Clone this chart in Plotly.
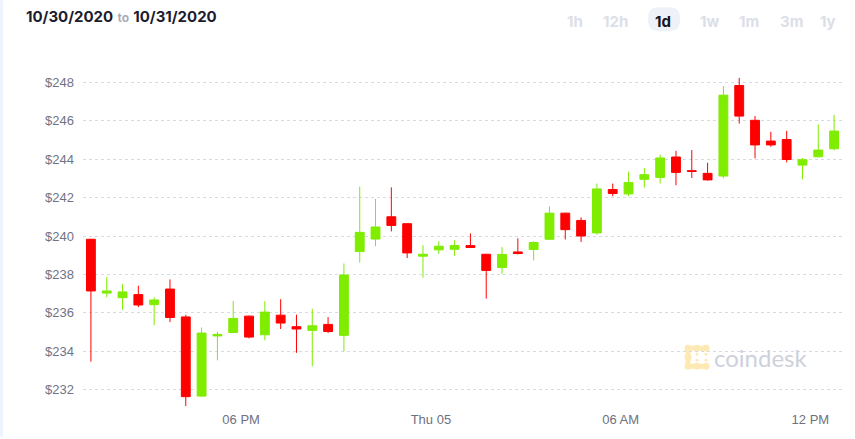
import pandas as pd
import plotly.graph_objects as go

# ---------------- data ----------------
start_time = "2020-11-04 13:15"
n_candles = 48
opens = [239.83, 237.03, 236.79, 236.95, 236.43, 237.24, 235.79, 231.67, 234.80, 234.98,
         235.83, 234.86, 235.88, 235.28, 235.09, 235.40, 234.83, 239.19, 239.84, 241.00,
         240.64, 238.95, 239.28, 239.31, 239.50, 239.05, 238.36, 239.17, 239.30, 239.83,
         241.19, 240.81, 240.16, 242.42, 242.19, 242.95, 243.05, 244.11, 243.40, 243.26,
         243.12, 247.83, 246.02, 244.94, 245.02, 243.69, 244.12, 244.54]
highs = [239.85, 237.85, 237.49, 237.41, 236.81, 237.74, 235.90, 235.24, 235.02, 236.62,
         235.86, 236.61, 236.71, 235.90, 236.21, 235.78, 238.57, 242.57, 241.93, 242.53,
         240.66, 239.52, 239.73, 239.78, 240.14, 239.07, 239.42, 239.88, 239.73, 241.54,
         241.21, 240.97, 242.73, 242.73, 243.35, 243.54, 244.23, 244.43, 244.47, 243.81,
         247.80, 248.23, 246.24, 245.42, 245.47, 244.06, 245.81, 246.30]
lows = [233.46, 236.81, 236.16, 236.30, 235.36, 235.52, 231.15, 231.65, 233.53, 234.96,
        234.67, 234.57, 235.16, 233.92, 233.22, 234.95, 234.00, 238.62, 239.47, 240.24,
        238.85, 237.83, 239.07, 238.97, 239.38, 236.74, 238.02, 239.04, 238.73, 239.80,
        239.82, 239.69, 240.07, 242.07, 242.07, 242.52, 242.73, 242.64, 243.02, 242.88,
        243.00, 245.85, 244.04, 244.64, 243.83, 242.95, 244.10, 244.45]
closes = [237.14, 237.14, 237.09, 236.41, 236.67, 235.76, 231.64, 234.95, 234.88, 235.71,
          234.74, 236.04, 235.47, 235.16, 235.33, 235.03, 237.97, 240.19, 240.47, 240.55,
          239.12, 239.05, 239.47, 239.50, 239.40, 238.21, 239.04, 239.09, 239.66, 241.19,
          240.33, 240.00, 242.45, 242.21, 242.78, 243.19, 244.06, 243.31, 243.36, 242.92,
          247.33, 246.24, 244.74, 244.74, 243.98, 243.97, 244.47, 245.46]
times = pd.date_range(start_time, periods=n_candles, freq="30min")

x_range = ["2020-11-04 13:00", "2020-11-05 13:00"]
x_tickvals = ["2020-11-04 18:00", "2020-11-05 00:00", "2020-11-05 06:00", "2020-11-05 12:00"]
x_ticktext = ["06 PM", "Thu 05", "06 AM", "12 PM"]
y_tickvals = [232, 234, 236, 238, 240, 242, 244, 246, 248]
y_ticktext = ["$" + str(v) for v in y_tickvals]
y_range = [231.05, 248.95]

range_buttons = ["1h", "12h", "1d", "1w", "1m", "3m", "1y"]
active_button = "1d"
date_from, date_to = "10/30/2020", "10/31/2020"

# ---------------- layout helpers (pixel -> paper) ----------------
W, H = 855, 439
ML, MR, MT, MB = 83, 13, 64, 29
PW, PH = W - ML - MR, H - MT - MB


def px(x):
    return (x - ML) / PW


def py(y):
    return (H - MB - y) / PH


GREEN = "#7fec00"
RED = "#ff0000"

fig = go.Figure()
fig.add_trace(go.Candlestick(
    x=times, open=opens, high=highs, low=lows, close=closes,
    increasing=dict(line=dict(color=GREEN, width=1), fillcolor=GREEN),
    decreasing=dict(line=dict(color=RED, width=1), fillcolor=RED),
    whiskerwidth=0, hoverinfo="x+y", showlegend=False,
))

shapes = []
# left pale strip
shapes.append(dict(type="rect", xref="paper", yref="paper", x0=px(0), x1=px(3),
                   y0=py(H), y1=py(0), fillcolor="#eef2fa", line=dict(width=0), layer="below"))
# pill behind active button
bx0, bx1, by0, by1, r = 648, 680, 7, 31, 11
path = (f"M {px(bx0 + r)} {py(by0)} L {px(bx1 - r)} {py(by0)} "
        f"Q {px(bx1)} {py(by0)} {px(bx1)} {py(by0 + r)} L {px(bx1)} {py(by1 - r)} "
        f"Q {px(bx1)} {py(by1)} {px(bx1 - r)} {py(by1)} L {px(bx0 + r)} {py(by1)} "
        f"Q {px(bx0)} {py(by1)} {px(bx0)} {py(by1 - r)} L {px(bx0)} {py(by0 + r)} "
        f"Q {px(bx0)} {py(by0)} {px(bx0 + r)} {py(by0)} Z")
shapes.append(dict(type="path", xref="paper", yref="paper", path=path,
                   fillcolor="#eef2f8", line=dict(width=0), layer="below"))
# coindesk logo icon (pale yellow)
LOGO = "#fde9b3"
lp = (f"M {px(706)} {py(350)} L {px(688)} {py(350)} L {px(688)} {py(368)} L {px(706)} {py(368)}")
shapes.append(dict(type="path", xref="paper", yref="paper", path=lp,
                   line=dict(color=LOGO, width=5), layer="below"))
for (cx, cy, rr) in [(688, 350, 3.5), (697, 350, 3.5), (706, 350, 3.5), (688, 359, 3.5),
                     (688, 368, 3.5), (697, 368, 3.5), (706, 368, 3.5),
                     (697, 356, 1.5), (706, 356, 1.5), (697, 362, 1.5), (706, 362, 1.5)]:
    shapes.append(dict(type="circle", xref="paper", yref="paper",
                       x0=px(cx - rr), x1=px(cx + rr), y0=py(cy + rr), y1=py(cy - rr),
                       fillcolor=LOGO, line=dict(width=0), layer="below"))

annotations = []
annotations.append(dict(
    xref="paper", yref="paper", x=px(24), y=py(16), xanchor="left", yanchor="middle",
    showarrow=False,
    text=(f"<b>{date_from}</b> <span style='font-size:12px;color:#a9abbb'><b>to</b></span> "
          f"<b>{date_to}</b>"),
    font=dict(family="Inter, Roboto, sans-serif", size=15, color="#1b1c2e"),
))
button_x = [574.5, 615, 663, 709, 749, 791, 828]
for lbl, bxc in zip(range_buttons, button_x):
    annotations.append(dict(
        xref="paper", yref="paper", x=px(bxc), y=py(21), xanchor="center", yanchor="middle",
        showarrow=False, text=f"<b>{lbl}</b>",
        font=dict(family="Inter, Roboto, sans-serif", size=15,
                  color="#14151f" if lbl == active_button else "#dcdee8"),
    ))
annotations.append(dict(
    xref="paper", yref="paper", x=px(712), y=py(359), xanchor="left", yanchor="middle",
    showarrow=False, text="coindesk",
    font=dict(family="Lato, Open Sans, sans-serif", size=24, color="#cdd1db"),
))

fig.update_layout(
    width=W, height=H,
    margin=dict(l=ML, r=MR, t=MT, b=MB, pad=0),
    paper_bgcolor="white", plot_bgcolor="white",
    boxgap=0.2,
    shapes=shapes, annotations=annotations,
    font=dict(family="Liberation Sans, Arial, sans-serif", size=13, color="#717384"),
    xaxis=dict(
        type="date", range=x_range, rangeslider=dict(visible=False),
        tickmode="array", tickvals=x_tickvals, ticktext=x_ticktext,
        showgrid=False, zeroline=False, showline=False, ticks="",
        tickfont=dict(size=13, color="#6f7180"), ticklabelstandoff=2,
    ),
    yaxis=dict(
        range=y_range, tickmode="array", tickvals=y_tickvals, ticktext=y_ticktext,
        showgrid=True, gridcolor="#d6dae6", griddash="dot", gridwidth=1,
        zeroline=False, showline=False, ticks="",
        tickfont=dict(size=13, color="#717384"), ticklabelstandoff=8,
    ),
    hovermode="x",
)

fig.write_html("out.html")
